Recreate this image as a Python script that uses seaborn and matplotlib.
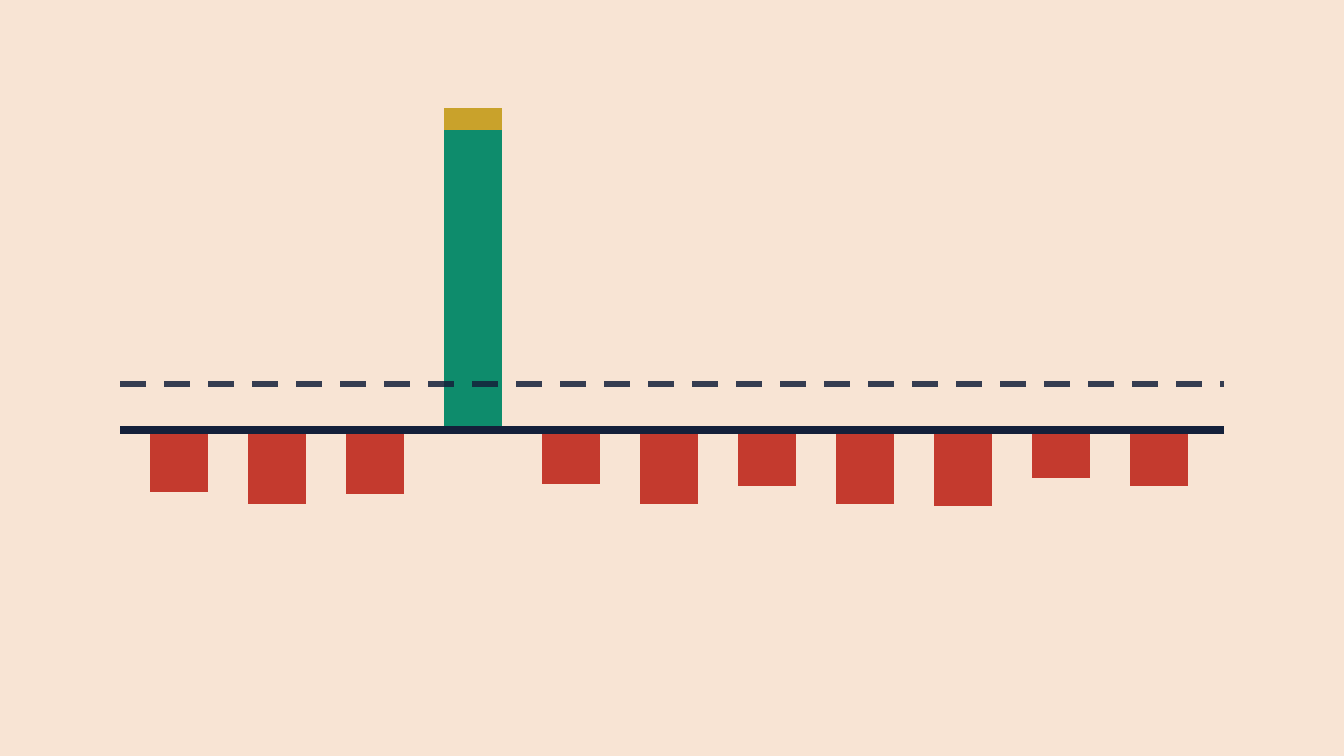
import numpy as np
import pandas as pd
import seaborn as sns
import matplotlib.pyplot as plt

# bar values (one unit = 10 px in the reference)
positions = list(range(11))
values = [-6.2, -7.4, -6.4, 30.0, -5.4, -7.4, -5.6, -7.4, -7.6, -4.8, -5.6]
caps = [0, 0, 0, 2.2, 0, 0, 0, 0, 0, 0, 0]
threshold = 4.6

bg = "#f8e4d4"
red = "#c43a2e"
green = "#0e8c6c"
gold = "#c9a22b"
ink = "#14203a"

df = pd.DataFrame({"pos": positions, "value": values, "cap": caps})
colors = [green if v > 0 else red for v in values]

sns.set_theme(style="white")
fig = plt.figure(figsize=(13.44, 7.56), dpi=100, facecolor=bg)
ax = fig.add_axes([120 / 1344, 56 / 756, 1104 / 1344, 640 / 756])
ax.set_facecolor(bg)

bar_w = 58 / 98
sns.barplot(data=df, x="pos", y="value", hue="pos", palette=colors,
            width=bar_w, linewidth=0, saturation=1, legend=False, ax=ax)
# stacked cap on top of the positive bar
ax.bar(df["pos"], df["cap"], bottom=df["value"].clip(lower=0),
       width=bar_w, color=gold, linewidth=0, zorder=2)

# baseline and dashed threshold
ax.axhline(0, color=ink, lw=5.76, zorder=4)
ax.axhline(threshold, color=ink, alpha=0.85, lw=4.32,
           linestyle=(0, (26 / 6, 18 / 6)), zorder=5)

ax.set_xlim(-59 / 98, 1045 / 98)
ax.set_ylim(-27, 37)
ax.set_xlabel("")
ax.set_ylabel("")
ax.set_xticks([])
ax.set_yticks([])
sns.despine(ax=ax, left=True, bottom=True)

fig.savefig("out.png", dpi=100, facecolor=bg)
